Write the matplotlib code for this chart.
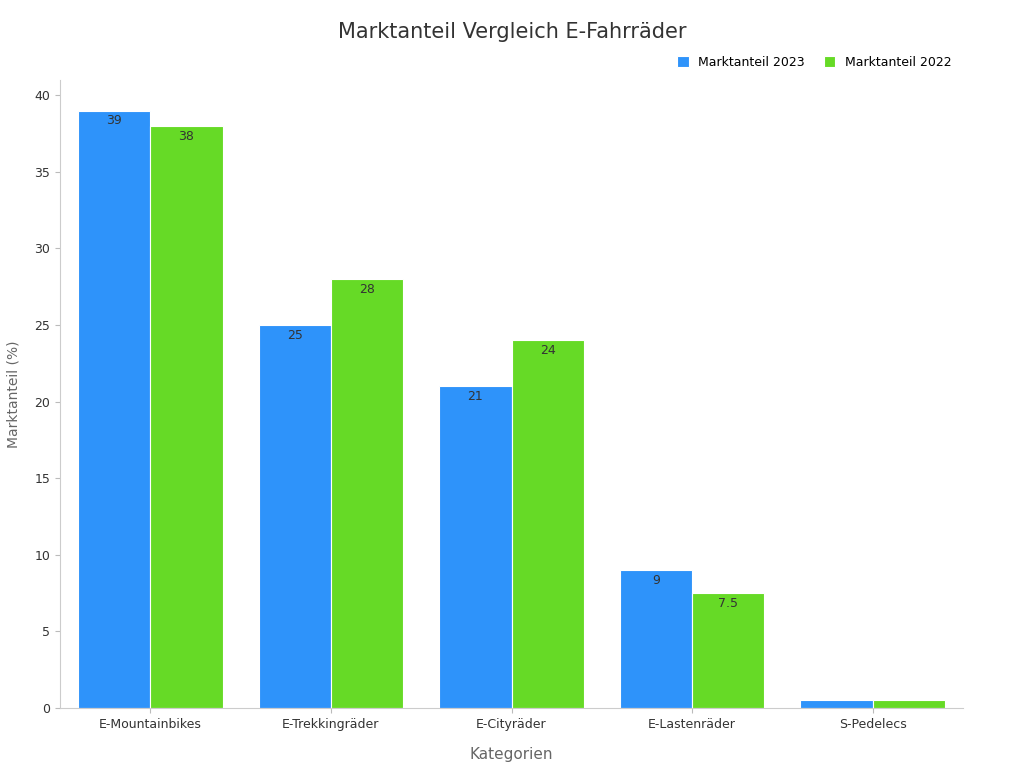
import numpy as np
import matplotlib.pyplot as plt

categories = ['E-Mountainbikes', 'E-Trekkingräder', 'E-Cityräder', 'E-Lastenräder', 'S-Pedelecs']
share_2023 = [39, 25, 21, 9, 0.5]
share_2022 = [38, 28, 24, 7.5, 0.5]

fig = plt.figure(figsize=(10.24, 7.68), dpi=100)
ax = fig.add_axes([60/1024, 60/768, 903/1024, 628/768])

x = np.arange(len(categories))
w = 0.4
b1 = ax.bar(x - w/2, share_2023, w, color='#2E93FA', edgecolor='white', linewidth=0.8, label='Marktanteil 2023')
b2 = ax.bar(x + w/2, share_2022, w, color='#66DA26', edgecolor='white', linewidth=0.8, label='Marktanteil 2022')

for bars, vals in ((b1, share_2023), (b2, share_2022)):
    for r, v in zip(bars, vals):
        if v < 2:
            continue
        ax.text(r.get_x() + r.get_width()/2, v - 0.25, f'{v:g}', ha='center', va='top',
                fontsize=9, color='#333333')

ax.set_xlim(-0.5, 4.5)
ax.set_ylim(0, 41)
ax.set_yticks(range(0, 41, 5))
ax.set_xticks(x)
ax.set_xticklabels(categories)
ax.tick_params(labelsize=9, colors='#333333')
ax.tick_params(axis='both', color='#bbbbbb')
for s in ('top', 'right'):
    ax.spines[s].set_visible(False)
for s in ('left', 'bottom'):
    ax.spines[s].set_color('#cccccc')

ax.set_xlabel('Kategorien', fontsize=11, color='#666666', labelpad=12)
ax.set_ylabel('Marktanteil (%)', fontsize=10, color='#666666', labelpad=10)
fig.suptitle('Marktanteil Vergleich E-Fahrräder', x=0.5, y=0.972, fontsize=15, color='#333333')
ax.legend(loc='lower right', bbox_to_anchor=(1.0, 1.0), ncol=2, frameon=False, fontsize=9,
          handlelength=0.9, handleheight=0.9, columnspacing=1.5)

fig.savefig('out.png', dpi=100)
